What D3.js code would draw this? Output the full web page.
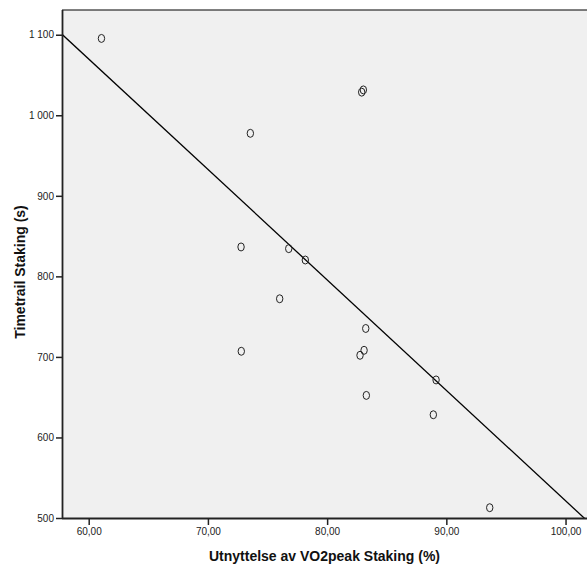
<!DOCTYPE html>
<html><head><meta charset="utf-8">
<script src="https://cdn.jsdelivr.net/npm/d3@7"></script>
<style>body{margin:0;background:#fff}svg{display:block}text{font-family:"Liberation Sans",Arial,sans-serif}</style>
</head><body>
<script>
const xVals = [61.07, 83.04, 82.90, 73.56, 72.78, 76.78, 78.17, 76.02, 72.80, 83.24, 83.10, 82.76, 89.14, 83.29, 88.91, 93.64];
const yVals = [1095.4, 1031.5, 1028.7, 977.6, 836.5, 834.4, 820.3, 772.2, 707, 735.3, 708.2, 702, 671.4, 652.2, 628.2, 512.8];
const xTicks = [60, 70, 80, 90, 100];
const yTicks = [500, 600, 700, 800, 900, 1000, 1100];
const xTitle = "Utnyttelse av VO2peak Staking (%)";
const yTitle = "Timetrail Staking (s)";

const W = 588, H = 572;
const L = 62, R = 587, T = 10, B = 518;
const loc = d3.formatLocale({decimal: ",", thousands: " ", grouping: [3], currency: ["", ""]});
const fx = loc.format(".2f"), fy = loc.format(",d");

const svg = d3.select("body").append("svg").attr("width", W).attr("height", H);
const x = d3.scaleLinear().domain([57.76, 101.80]).range([L, R]);
const y = d3.scaleLinear().domain([500, 1130.7]).range([B, T]);

svg.append("rect").attr("x", L).attr("y", T).attr("width", R - L).attr("height", B - T).attr("fill", "#f0f0f0");
svg.append("defs").append("clipPath").attr("id", "clip").append("rect")
  .attr("x", L).attr("y", T).attr("width", R - L).attr("height", B - T);

// least squares fit
const mx = d3.mean(xVals), my = d3.mean(yVals);
let sxy = 0, sxx = 0;
xVals.forEach((v, i) => { sxy += (v - mx) * (yVals[i] - my); sxx += (v - mx) ** 2; });
const slope = sxy / sxx, icpt = my - slope * mx;
const x0 = x.domain()[0], x1 = x.domain()[1];
svg.append("line").attr("clip-path", "url(#clip)")
  .attr("x1", x(x0)).attr("y1", y(icpt + slope * x0))
  .attr("x2", x(x1)).attr("y2", y(icpt + slope * x1))
  .attr("stroke", "#000").attr("stroke-width", 1.3);

// points
svg.append("g").selectAll("ellipse").data(xVals).join("ellipse")
  .attr("cx", d => x(d)).attr("cy", (d, i) => y(yVals[i]))
  .attr("rx", 3.2).attr("ry", 4).attr("fill", "none").attr("stroke", "#222").attr("stroke-width", 1);

// top border
svg.append("line").attr("x1", L).attr("x2", R).attr("y1", T).attr("y2", T).attr("stroke", "#000").attr("stroke-width", 1);

// axes
const xa = svg.append("g").attr("transform", `translate(0,${B})`)
  .call(d3.axisBottom(x).tickValues(xTicks).tickFormat(fx).tickSizeOuter(0).tickSizeInner(7).tickPadding(3));
const ya = svg.append("g").attr("transform", `translate(${L},0)`)
  .call(d3.axisLeft(y).tickValues(yTicks).tickFormat(fy).tickSizeOuter(0).tickSizeInner(6).tickPadding(2));
[xa, ya].forEach(g => {
  g.select(".domain").attr("stroke", "#222").attr("stroke-width", 1.8);
  g.selectAll(".tick line").attr("stroke", "#222").attr("stroke-width", 1.5);
  g.selectAll(".tick text").attr("fill", "#222").attr("font-size", 10).attr("font-family", '"Liberation Sans",Arial,sans-serif');
});
ya.select(".domain").attr("d", `M0.5,${T}V${B}`);
xa.select(".domain").attr("d", `M${L},0.5H${R}`);

svg.append("text").attr("x", (L + R) / 2).attr("y", 561).attr("text-anchor", "middle")
  .attr("font-size", 14).attr("font-weight", "bold").attr("fill", "#111").text(xTitle);
svg.append("text").attr("transform", `translate(25,272) rotate(-90)`).attr("text-anchor", "middle")
  .attr("font-size", 14).attr("font-weight", "bold").attr("fill", "#111").text(yTitle);
</script>
</body></html>
